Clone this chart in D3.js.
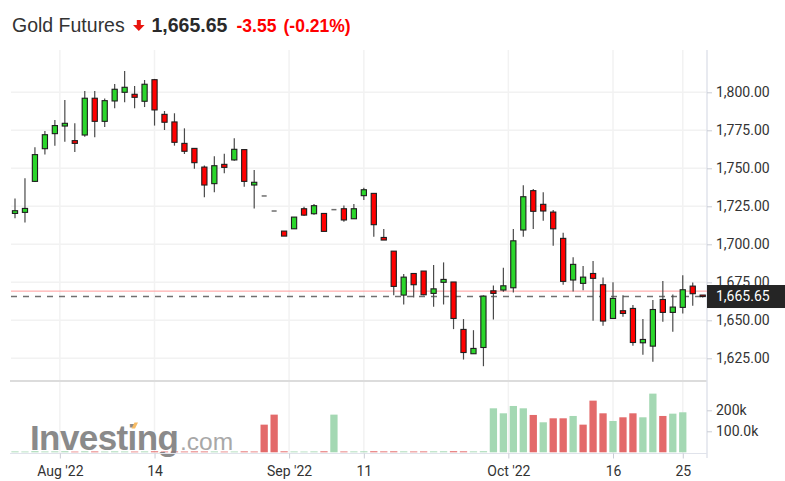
<!DOCTYPE html>
<html>
<head>
<meta charset="utf-8">
<script src="https://cdn.jsdelivr.net/npm/d3@7"></script>
<style>
  html, body { margin: 0; padding: 0; background: #fff; }
  svg { display: block; }
</style>
</head>
<body>
<svg id="chart" width="785" height="481"></svg>
<script>
// ---------- DATA ----------
const title = "Gold Futures";
const lastPrice = 1665.65;
const prevClose = 1669.20;
const changeText = "-3.55";
const changePctText = "(-0.21%)";

const opens  = [1720.3,1721.0,1741.4,1762.9,1772.8,1777.8,1768.2,1771.9,1796.1,1780.9,
                1794.3,1800.0,1798.7,1794.1,1808.3,1785.5,1780.5,1766.4,1763.1,1750.8,
                1739.9,1752.6,1755.5,1762.3,1739.0,1731.8,1721.9,1708.7,1710.2,1723.4,
                1720.1,1720.3,1722.8,1723.4,1716.8,1732.0,1733.5,1704.5,1695.5,1666.6,
                1680.8,1682.4,1667.7,1675.0,1675.2,1644.0,1628.0,1632.1,1669.4,1669.9,
                1671.4,1709.4,1735.3,1726.3,1721.2,1703.9,1676.5,1674.3,1680.8,1673.4,
                1651.2,1656.3,1657.8,1635.2,1633.0,1663.7,1655.2,1658.5,1672.5,1666.6];
const highs  = [1730.2,1743.4,1763.8,1774.5,1781.8,1795.0,1779.6,1800.9,1800.9,1796.0,
                1805.5,1814.0,1804.2,1808.1,1808.8,1787.7,1786.2,1776.3,1763.1,1751.9,
                1757.9,1759.6,1769.7,1762.3,1748.9,1731.8,1721.9,1708.7,1718.0,1724.7,
                1726.5,1720.3,1722.8,1725.6,1726.5,1737.2,1733.5,1710.0,1695.5,1680.4,
                1680.8,1682.4,1686.3,1688.1,1675.2,1650.8,1643.5,1666.4,1672.9,1684.6,
                1710.0,1738.8,1736.4,1734.2,1722.5,1707.6,1691.4,1685.7,1689.0,1678.2,
                1675.0,1666.4,1660.0,1650.8,1663.3,1675.8,1667.0,1679.7,1674.8,1666.6];
const lows   = [1717.1,1714.4,1741.0,1759.0,1764.9,1767.5,1760.7,1770.8,1770.4,1777.2,
                1789.5,1793.4,1789.5,1790.3,1778.1,1775.2,1764.9,1759.4,1749.7,1730.9,
                1734.2,1746.7,1755.0,1737.9,1723.6,1731.8,1721.9,1705.4,1710.0,1718.6,
                1719.5,1708.5,1722.8,1714.9,1716.8,1729.1,1705.0,1702.8,1666.4,1660.4,
                1665.0,1666.4,1658.9,1660.4,1644.2,1624.2,1628.0,1619.8,1650.6,1668.8,
                1668.3,1705.0,1710.0,1715.5,1699.0,1673.4,1669.0,1669.7,1649.7,1646.4,
                1651.2,1652.3,1633.2,1627.3,1622.7,1649.0,1642.4,1654.5,1659.6,1665.0];
const closes = [1722.1,1723.6,1759.0,1772.1,1778.1,1779.6,1766.4,1796.1,1780.9,1794.5,
                1802.0,1803.3,1796.7,1805.3,1788.4,1780.3,1767.1,1761.2,1753.7,1739.0,
                1751.7,1750.6,1762.5,1741.4,1740.8,1731.8,1721.9,1705.4,1717.9,1719.2,
                1725.4,1708.5,1722.8,1716.0,1723.4,1735.9,1712.9,1702.8,1672.3,1678.4,
                1673.4,1666.8,1670.7,1676.9,1651.2,1628.8,1631.5,1665.9,1667.7,1672.7,
                1702.3,1731.3,1721.7,1721.9,1710.2,1675.6,1686.8,1678.4,1677.6,1649.5,
                1664.4,1654.5,1635.4,1637.4,1657.1,1655.2,1658.7,1670.1,1667.5,1665.65];
const volumes = [4200,3600,5200,3900,4400,5000,3300,4700,4100,3800,
                 4500,3900,3500,4200,4800,3700,4000,3600,4300,3900,
                 4100,3400,3800,4400,3700,131700,179400,4600,4000,3500,
                 4200,4800,179400,3900,4100,4600,5000,4300,4700,4400,
                 3900,4200,4500,4800,5200,4600,4300,5100,209500,185700,
                 220600,209500,177800,142900,161900,161900,173000,131700,246000,185700,
                 149200,166700,185700,166700,279400,173000,184000,190500,0,0];

const priceTicks = [1625, 1650, 1675, 1700, 1725, 1750, 1775, 1800];
const volumeTicks = [100000, 200000];
const volumeTickLabels = ["100.0k", "200k"];
const xTickIndex  = [4.5, 14, 27.5, 35, 49.5, 60, 67];
const xTickLabels = ["Aug '22", "14", "Sep '22", "11", "Oct '22", "16", "25"];

// ---------- LAYOUT ----------
const svg = d3.select("#chart");
const plotLeft = 11, plotRight = 707;
const priceTop = 50, priceBottom = 380;
const volTop = 382, volBottom = 453;

const x = d3.scaleLinear().domain([0, opens.length - 1]).range([15, 702.7]);
const y = d3.scaleLinear().domain([1625, 1800]).range([358.3, 92.3]);
const vy = d3.scaleLinear().domain([0, 200000]).range([452.3, 410.3]);

const axisFont = "Roboto, 'Liberation Sans', Arial, sans-serif";
const gridColor = "#f2f2f2";
const upFill = "#2bd62b", downFill = "#ff0000";
const volUp = "#a4d8b3", volDown = "#e36a6a";

// ---------- GRID ----------
const grid = svg.append("g");
grid.selectAll("line.hg").data(priceTicks).join("line")
  .attr("x1", plotLeft).attr("x2", plotRight)
  .attr("y1", d => y(d)).attr("y2", d => y(d))
  .attr("stroke", gridColor).attr("stroke-width", 1.5);
grid.selectAll("line.vg").data(xTickIndex).join("line")
  .attr("x1", d => x(d)).attr("x2", d => x(d))
  .attr("y1", priceTop).attr("y2", priceBottom)
  .attr("stroke", gridColor).attr("stroke-width", 1.5);
grid.selectAll("line.vg2").data(xTickIndex).join("line")
  .attr("x1", d => x(d)).attr("x2", d => x(d))
  .attr("y1", volTop).attr("y2", volBottom)
  .attr("stroke", gridColor).attr("stroke-width", 1.5);

// ---------- VOLUME ----------
const idx = d3.range(opens.length);
svg.append("g").selectAll("rect").data(idx.filter(i => volumes[i] > 0)).join("rect")
  .attr("x", i => x(i) - 3.65)
  .attr("width", 7.3)
  .attr("y", i => vy(volumes[i]))
  .attr("height", i => vy(0) - vy(volumes[i]))
  .attr("fill", i => (i === 0 ? closes[i] >= opens[i] : closes[i] >= closes[i - 1]) ? volUp : volDown);

// ---------- WATERMARK ----------
const wm = svg.append("g").attr("opacity", 0.85);
wm.append("text").attr("x", 30).attr("y", 450)
  .attr("font-family", "'Liberation Sans', Arial, sans-serif")
  .attr("font-weight", "bold").attr("font-size", 35).attr("letter-spacing", -0.6)
  .attr("fill", "#767676").text("Investing");
wm.append("text").attr("x", 180).attr("y", 450)
  .attr("font-family", "'Liberation Sans', Arial, sans-serif")
  .attr("font-size", 24.5).attr("fill", "#999").text(".com");
wm.append("path").attr("d", "M131.5,428.5 L134.5,422.5 L138,422.5 L135,428.5 Z").attr("fill", "#f6b04a");

// ---------- SEPARATORS / AXES LINES ----------
svg.append("line").attr("x1", 10).attr("x2", plotRight).attr("y1", 381).attr("y2", 381)
  .attr("stroke", "#dcdcdc").attr("stroke-width", 2);
svg.append("line").attr("x1", 10).attr("x2", plotRight).attr("y1", 453.5).attr("y2", 453.5)
  .attr("stroke", "#e0e3eb").attr("stroke-width", 1);
svg.append("line").attr("x1", 707).attr("x2", 707).attr("y1", priceTop).attr("y2", 458)
  .attr("stroke", "#e0e3eb").attr("stroke-width", 1.5);

// ---------- PRICE REFERENCE LINES ----------
svg.append("line").attr("x1", plotLeft).attr("x2", plotRight)
  .attr("y1", y(prevClose)).attr("y2", y(prevClose))
  .attr("stroke", "#ff9c9c").attr("stroke-width", 1);
svg.append("line").attr("x1", plotLeft).attr("x2", plotRight)
  .attr("y1", y(lastPrice)).attr("y2", y(lastPrice))
  .attr("stroke", "#707070").attr("stroke-width", 1.3).attr("stroke-dasharray", "6,6");

// ---------- CANDLES ----------
const cg = svg.append("g");
const normal = idx.filter(i => highs[i] > lows[i]);
const flat = idx.filter(i => highs[i] <= lows[i]);
cg.selectAll("line.wick").data(normal).join("line")
  .attr("x1", i => x(i)).attr("x2", i => x(i))
  .attr("y1", i => y(highs[i])).attr("y2", i => y(lows[i]))
  .attr("stroke", "#4a4a4a").attr("stroke-width", 1.2);
cg.selectAll("rect.body").data(normal).join("rect")
  .attr("x", i => x(i) - 2.6)
  .attr("width", 5.2)
  .attr("y", i => y(Math.max(opens[i], closes[i])))
  .attr("height", i => Math.max(1.5, Math.abs(y(opens[i]) - y(closes[i]))))
  .attr("fill", i => closes[i] >= opens[i] ? upFill : downFill)
  .attr("stroke", "#1e1e1e").attr("stroke-width", 1.1);
cg.selectAll("line.flat").data(flat).join("line")
  .attr("x1", i => x(i) - 2.5).attr("x2", i => x(i) + 2.5)
  .attr("y1", i => y(closes[i])).attr("y2", i => y(closes[i]))
  .attr("stroke", "#6e6e6e").attr("stroke-width", 1.5);

// ---------- Y AXIS (price) ----------
const fmt = d3.format(",.2f");
const yAxis = d3.axisRight(y).tickValues(priceTicks).tickFormat(fmt).tickSize(5).tickPadding(4);
const yg = svg.append("g").attr("transform", "translate(707,0)").call(yAxis);
yg.select(".domain").remove();
yg.selectAll(".tick line").attr("stroke", "#c9ccd4");
yg.selectAll(".tick text").attr("fill", "#333").attr("font-size", 14).attr("font-family", axisFont);

// price label box (covers part of the 1,675.00 label, as in the original)
svg.append("rect").attr("x", 707).attr("y", y(lastPrice) - 11.5).attr("width", 78).attr("height", 23)
  .attr("fill", "#252525");
svg.append("text").attr("x", 716).attr("y", y(lastPrice)).attr("dy", "0.35em")
  .attr("fill", "#fff").attr("font-size", 14).attr("font-family", axisFont).text(fmt(lastPrice));

// ---------- Y AXIS (volume) ----------
const vAxis = d3.axisRight(vy).tickValues(volumeTicks)
  .tickFormat((d, i) => volumeTickLabels[i]).tickSize(5).tickPadding(4);
const vg = svg.append("g").attr("transform", "translate(707,0)").call(vAxis);
vg.select(".domain").remove();
vg.selectAll(".tick line").attr("stroke", "#c9ccd4");
vg.selectAll(".tick text").attr("fill", "#333").attr("font-size", 14).attr("font-family", axisFont);

// ---------- X AXIS ----------
const xAxis = d3.axisBottom(x).tickValues(xTickIndex)
  .tickFormat((d, i) => xTickLabels[i]).tickSize(5).tickPadding(8);
const xg = svg.append("g").attr("transform", "translate(0,453.5)").call(xAxis);
xg.select(".domain").remove();
xg.selectAll(".tick line").attr("stroke", "#c9ccd4");
xg.selectAll(".tick text").attr("fill", "#333").attr("font-size", 14).attr("font-family", axisFont);

// ---------- TITLE ----------
const titleFont = "'Liberation Sans', Arial, sans-serif";
svg.append("text").attr("x", 12).attr("y", 32.3).attr("font-family", titleFont)
  .attr("font-size", 19.5).attr("fill", "#333").text(title);
svg.append("path")
  .attr("d", "M136.8,20 L140.8,20 L140.8,25 L144.6,25 L138.8,31 L133,25 L136.8,25 Z")
  .attr("fill", "#e8140e");
svg.append("text").attr("x", 151.5).attr("y", 32.3).attr("font-family", titleFont)
  .attr("font-weight", "bold").attr("font-size", 19.5).attr("fill", "#2a2a2a").text(fmt(lastPrice));
svg.append("text").attr("x", 236.5).attr("y", 31.8).attr("font-family", titleFont)
  .attr("font-weight", "bold").attr("font-size", 17.5).attr("fill", "#f00").text(changeText);
svg.append("text").attr("x", 283.5).attr("y", 31.8).attr("font-family", titleFont)
  .attr("font-weight", "bold").attr("font-size", 17.5).attr("fill", "#f00").text(changePctText);
</script>
</body>
</html>
